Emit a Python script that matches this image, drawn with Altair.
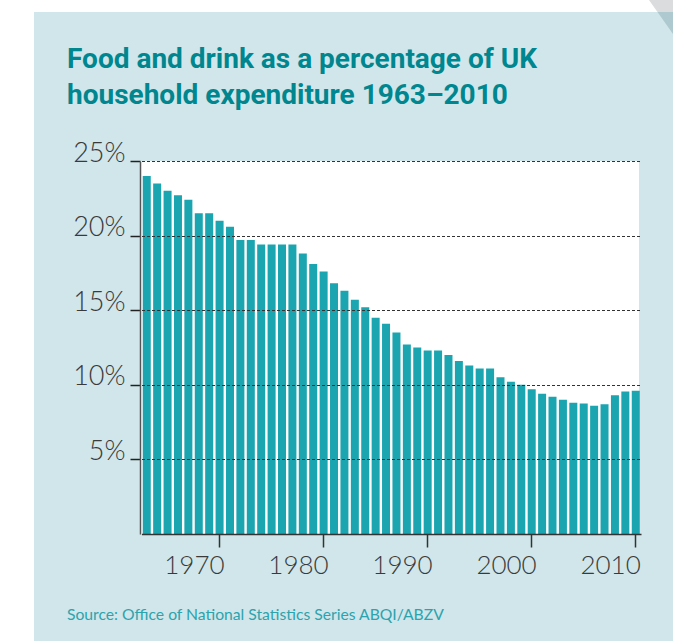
import altair as alt
import pandas as pd

years = list(range(1963, 2011))
shares = [24.0, 23.5, 23.0, 22.7, 22.4, 21.5, 21.5, 21.0, 20.6, 19.7,
          19.7, 19.4, 19.4, 19.4, 19.4, 18.8, 18.1, 17.6, 16.8, 16.3,
          15.7, 15.2, 14.5, 14.1, 13.5, 12.7, 12.5, 12.3, 12.3, 12.0,
          11.6, 11.3, 11.1, 11.1, 10.5, 10.2, 10.0, 9.7, 9.4, 9.2,
          9.0, 8.8, 8.75, 8.6, 8.7, 9.3, 9.55, 9.6]
x_ticks = [1970, 1980, 1990, 2000, 2010]
y_ticks = [5, 10, 15, 20, 25]
title_lines = ["Food and drink as a percentage of UK",
               "household expenditure 1963\u20132010"]
source_text = "Source: Office of National Statistics Series ABQI/ABZV"

df = pd.DataFrame({"year": years, "share": shares})

W, H = 499, 373
PAD_L, PAD_T = 140, 161
one = alt.Data(values=[{}])

PANEL = "#d0e6ea"
BAR = "#1ba5b0"
TITLE_C = "#00868f"
SRC_C = "#2ca3ad"

tri_top = alt.Chart(one).mark_point(
    shape="M-24,0 L0,0 L0,34 Z", size=4, filled=True, color="#dadcde", opacity=1
).encode(x=alt.value(673 - PAD_L), y=alt.value(0 - PAD_T))

panel = alt.Chart(one).mark_rect(color=PANEL).encode(
    x=alt.value(34 - PAD_L), x2=alt.value(673 - PAD_L),
    y=alt.value(12 - PAD_T), y2=alt.value(641 - PAD_T))

tri_panel = alt.Chart(one).mark_point(
    shape="M-15.5,12 L0,12 L0,34 Z", size=4, filled=True, color="#aec9cf", opacity=1
).encode(x=alt.value(673 - PAD_L), y=alt.value(0 - PAD_T))

plotbg = alt.Chart(one).mark_rect(color="white").encode(
    x=alt.value(0), x2=alt.value(W), y=alt.value(0), y2=alt.value(H))

bars = alt.Chart(df).mark_bar(color=BAR).encode(
    x=alt.X("year:O",
            scale=alt.Scale(range=[1.5, 501], paddingInner=0.23, paddingOuter=0.12),
            axis=alt.Axis(values=x_ticks, title=None, labelAngle=0,
                          labelFont="Lato", labelFontWeight=300, labelFontSize=26,
                          labelColor="#3a3a3a", labelPadding=5,
                          labelAlign="right", labelOffset=5,
                          tickSize=13, tickColor="#333333", tickWidth=1.5,
                          domainColor="#333333", domainWidth=1.5,
                          grid=False, zindex=1)),
    y=alt.Y("share:Q",
            scale=alt.Scale(domain=[0, 25], nice=False),
            axis=alt.Axis(values=y_ticks, title=None,
                          labelExpr="datum.value + '%'",
                          labelFont="Lato", labelFontWeight=300, labelFontSize=27,
                          labelColor="#3a3a3a", labelBaseline="alphabetic",
                          labelPadding=5, tickSize=10, tickColor="#222222",
                          tickWidth=1.5, domainColor="#555555", domainWidth=1.5,
                          grid=True, gridColor="#333333", gridDash=[3, 2],
                          gridWidth=1, zindex=1)),
)

def txt(s, x, y, size, color, weight, font):
    return alt.Chart(one).mark_text(
        text=s, align="left", baseline="alphabetic", fontSize=size,
        color=color, fontWeight=weight, font=font
    ).encode(x=alt.value(x - PAD_L), y=alt.value(y - PAD_T))

title1 = txt(title_lines[0], 67, 68, 28, TITLE_C, "bold", "Roboto")
title2 = txt(title_lines[1], 67, 104, 28, TITLE_C, "bold", "Roboto")
source = txt(source_text, 67, 620, 15.7, SRC_C, "normal", "Lato")

chart = alt.layer(tri_top, panel, tri_panel, plotbg, bars, title1, title2, source).properties(
    width=W, height=H,
    autosize=alt.AutoSizeParams(type="none"),
    padding={"left": PAD_L, "top": PAD_T, "right": 673 - PAD_L - W, "bottom": 641 - PAD_T - H},
    background="white",
).configure_view(stroke="transparent")

chart.save("out.html", embed_options={"renderer": "svg", "actions": False})
